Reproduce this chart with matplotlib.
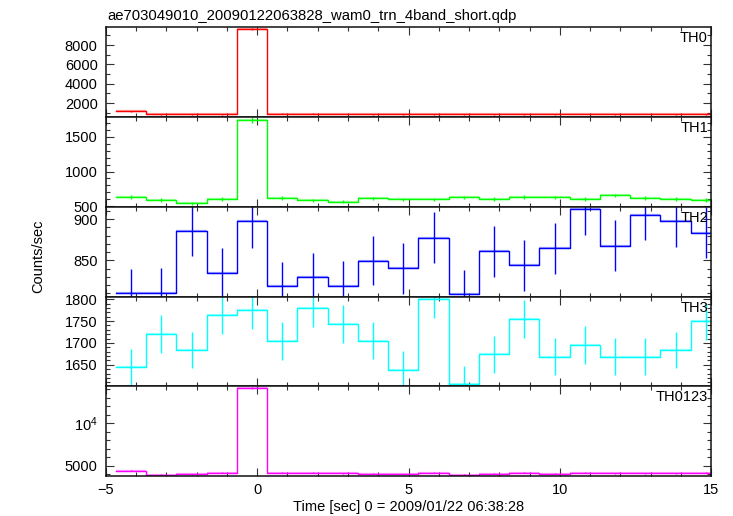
import numpy as np
import matplotlib
matplotlib.use('Agg')
import matplotlib.pyplot as plt
from matplotlib.ticker import MultipleLocator, FuncFormatter

plt.rcParams['font.family'] = ['Liberation Sans', 'DejaVu Sans']
plt.rcParams['mathtext.fontset'] = 'custom'
plt.rcParams['mathtext.rm'] = 'Liberation Sans'
plt.rcParams['mathtext.it'] = 'Liberation Sans'

title = "ae703049010_20090122063828_wam0_trn_4band_short.qdp"
x_label = "Time [sec] 0 = 2009/01/22 06:38:28"
y_label = "Counts/sec"

time_centers = [-4.17, -3.17, -2.17, -1.17, -0.17, 0.83, 1.83, 2.83, 3.83, 4.83,
                5.83, 6.83, 7.83, 8.83, 9.83, 10.83, 11.83, 12.83, 13.83, 14.83]
half_bin = 0.5

band_names = ["TH0", "TH1", "TH2", "TH3", "TH0123"]
band_colors = ["#ff0000", "#00ff00", "#0000ff", "#00ffff", "#ff00ff"]

th0 = [1140, 830, 830, 840, 9630, 900, 900, 880, 850, 850,
       830, 850, 850, 850, 850, 870, 850, 870, 850, 850]
th0_err = [35, 30, 30, 30, 100, 31, 31, 30, 30, 30,
           30, 30, 30, 30, 30, 30, 30, 30, 30, 30]

th1 = [632, 590, 542, 604, 1745, 618, 585, 566, 613, 599,
       599, 627, 608, 637, 627, 604, 656, 623, 608, 590]
th1_err = [26, 25, 24, 26, 44, 26, 25, 25, 26, 26,
           26, 26, 26, 27, 26, 26, 27, 26, 26, 25]

th2 = [809.8, 810.2, 885.8, 835.0, 897.2, 818.3, 829.3, 818.7, 849.6, 840.2,
       877.6, 808.5, 861.0, 843.9, 864.6, 912.6, 867.5, 905.3, 897.6, 883.7]
th2_err = [30, 30, 31, 30, 32, 30, 30, 30, 30, 31,
           31, 30, 31, 31, 31, 32, 31, 31, 31, 31]

th3 = [1644.7, 1720.5, 1684.0, 1764.4, 1774.2, 1704.5, 1778.8, 1743.2, 1705.3, 1638.6,
       1800.0, 1606.0, 1674.2, 1754.5, 1668.2, 1695.5, 1668.2, 1668.2, 1684.0, 1749.2]
th3_err = [42, 43, 42, 43, 43, 43, 43, 43, 43, 42,
           44, 42, 42, 43, 42, 43, 42, 42, 42, 43]

th0123 = [4405, 3968, 4008, 4167, 14166, 4167, 4167, 4127, 4048, 4008,
          4167, 3929, 4048, 4206, 4087, 4167, 4127, 4127, 4127, 4167]
th0123_err = [66, 64, 64, 65, 122, 65, 65, 65, 64, 64,
              65, 64, 64, 65, 65, 65, 65, 65, 65, 65]

band_values = [th0, th1, th2, th3, th0123]
band_errors = [th0_err, th1_err, th2_err, th3_err, th0123_err]

y_limits = [(560, 9830), (492, 1785), (806, 915), (1601, 1806), (3800, 14320)]
y_major = [2000, 500, 50, 50, 5000]
y_minor = [1000, 100, 10, 10, 1000]

x_limits = (-5, 15)

fig = plt.figure(figsize=(7.33, 5.16), dpi=100)
gs = fig.add_gridspec(5, 1, left=0.1446, right=0.970, bottom=0.0775, top=0.947, hspace=0)

centers = np.array(time_centers)
edges = np.append(centers - half_bin, centers[-1] + half_bin)

for i in range(5):
    ax = fig.add_subplot(gs[i, 0])
    vals = np.array(band_values[i], dtype=float)
    errs = np.array(band_errors[i], dtype=float)
    col = band_colors[i]
    ax.errorbar(centers, vals, xerr=half_bin, fmt='none', ecolor=col,
                elinewidth=1.6, alpha=0.35, capsize=0)
    ax.errorbar(centers, vals, yerr=errs, fmt='none', ecolor=col,
                elinewidth=1.0, capsize=0)
    ax.step(edges, np.append(vals, vals[-1]), where='post', color=col, lw=1.0)

    ax.set_xlim(*x_limits)
    ax.set_ylim(*y_limits[i])
    ax.xaxis.set_major_locator(MultipleLocator(5))
    ax.xaxis.set_minor_locator(MultipleLocator(1))
    ax.yaxis.set_major_locator(MultipleLocator(y_major[i]))
    ax.yaxis.set_minor_locator(MultipleLocator(y_minor[i]))
    ax.tick_params(which='both', direction='in', top=True, right=True,
                   width=0.8, colors='#333333', labelcolor='black', labelsize=10.5)
    ax.tick_params(which='major', length=5.5)
    ax.tick_params(which='minor', length=2.8)
    ax.tick_params(axis='y', pad=6)
    ax.tick_params(axis='x', pad=5)
    for sp in ax.spines.values():
        sp.set_linewidth(1.1)
        sp.set_color('#111111')
    if i == 4:
        ax.yaxis.set_major_formatter(FuncFormatter(
            lambda v, p: r'$10^4$' if abs(v - 10000) < 1 else '%d' % v))
    if i < 4:
        ax.tick_params(axis='x', labelbottom=False)
    else:
        ax.set_xlabel(x_label, fontsize=10.5, labelpad=2)
    ax.text(0.995, 0.955, band_names[i], transform=ax.transAxes,
            ha='right', va='top', fontsize=10.5)

fig.text(0.146, 0.962, title, ha='left', va='baseline', fontsize=10.7)
fig.text(0.052, 0.504, y_label, rotation=90, ha='center', va='center', fontsize=10.5)

fig.savefig('out.png', dpi=100)
